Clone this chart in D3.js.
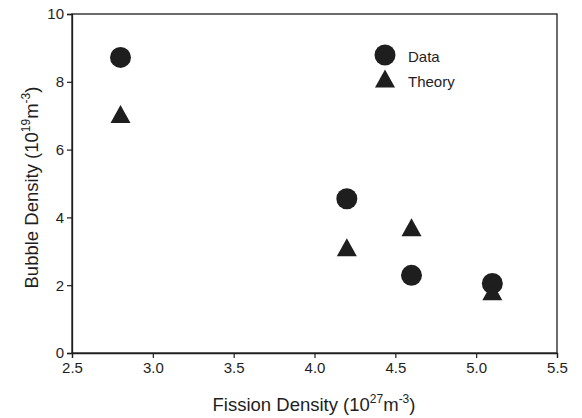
<!DOCTYPE html>
<html>
<head>
<meta charset="utf-8">
<script src="https://cdn.jsdelivr.net/npm/d3@7"></script>
<style>
  html, body { margin: 0; padding: 0; background: #fff; }
  svg { display: block; font-family: "Liberation Sans", Arial, sans-serif; }
</style>
</head>
<body>
<svg id="chart" width="582" height="418"></svg>
<script>
// Fission density (10^27 m^-3) vs. bubble density (10^19 m^-3)
const fissionData = [2.8, 4.2, 4.6, 5.1];
const bubbleData = [8.72, 4.55, 2.29, 2.05];
const fissionTheory = [2.8, 4.2, 4.6, 5.1];
const bubbleTheory = [7.05, 3.12, 3.71, 1.82];
const xTicks = [2.5, 3.0, 3.5, 4.0, 4.5, 5.0, 5.5];
const yTicks = [0, 2, 4, 6, 8, 10];
const seriesNames = ["Data", "Theory"];

const svg = d3.select("#chart");
const m = { left: 72, right: 557, top: 14, bottom: 353 };
const ink = "#1e1e1e";

const x = d3.scaleLinear().domain([2.5, 5.5]).range([m.left, m.right]);
const y = d3.scaleLinear().domain([0, 10]).range([m.bottom, m.top]);

// frame
svg.append("rect")
  .attr("x", m.left).attr("y", m.top)
  .attr("width", m.right - m.left).attr("height", m.bottom - m.top)
  .attr("fill", "none").attr("stroke", ink).attr("stroke-width", 1.3);

const xAxis = svg.append("g")
  .attr("transform", `translate(0,${m.bottom})`)
  .call(d3.axisBottom(x).tickValues(xTicks).tickFormat(d3.format(".1f")).tickSize(5).tickPadding(4));
const yAxis = svg.append("g")
  .attr("transform", `translate(${m.left},0)`)
  .call(d3.axisLeft(y).tickValues(yTicks).tickFormat(d3.format("d")).tickSize(5).tickPadding(3));

[xAxis, yAxis].forEach(g => {
  g.select(".domain").attr("stroke", ink).attr("stroke-width", 1.3);
  g.selectAll(".tick line").attr("stroke", ink).attr("stroke-width", 1.2);
  g.selectAll(".tick text").attr("fill", ink).attr("font-size", 15)
    .attr("font-family", "'Liberation Sans', Arial, sans-serif");
});

// symbols
const circle = d3.symbol().type(d3.symbolCircle).size(Math.PI * 10.5 * 10.5);
const triSide = 20;
// triangle centred on its bounding box
const triPath = (s) => {
  const h = s * 0.9;
  return `M0,${-h / 2}L${s / 2},${h / 2}L${-s / 2},${h / 2}Z`;
};

svg.append("g").selectAll("path")
  .data(fissionData.map((d, i) => [d, bubbleData[i]]))
  .join("path")
  .attr("d", circle)
  .attr("transform", d => `translate(${x(d[0])},${y(d[1])})`)
  .attr("fill", ink);

svg.append("g").selectAll("path")
  .data(fissionTheory.map((d, i) => [d, bubbleTheory[i]]))
  .join("path")
  .attr("d", triPath(triSide))
  .attr("transform", d => `translate(${x(d[0])},${y(d[1])})`)
  .attr("fill", ink);

// legend
const legend = svg.append("g");
legend.append("path").attr("d", circle).attr("transform", "translate(385,55)").attr("fill", ink);
legend.append("path").attr("d", triPath(triSide)).attr("transform", "translate(385,78.5)").attr("fill", ink);
legend.selectAll("text")
  .data(seriesNames)
  .join("text")
  .attr("x", 408)
  .attr("y", (d, i) => 61.5 + i * 25.5)
  .attr("font-size", 15)
  .attr("fill", ink)
  .text(d => d);

// axis titles with superscripts
function titleWithUnits(sel, label, exp) {
  sel.append("tspan").text(label + " (10");
  sel.append("tspan").attr("font-size", 12).attr("dy", -8).text(exp);
  sel.append("tspan").attr("dy", 8).text("m");
  sel.append("tspan").attr("font-size", 12).attr("dy", -8).text("-3");
  sel.append("tspan").attr("dy", 8).text(")");
}

const xTitle = svg.append("text")
  .attr("x", 314).attr("y", 411)
  .attr("text-anchor", "middle").attr("font-size", 18.5).attr("fill", ink);
titleWithUnits(xTitle, "Fission Density", "27");

const yTitle = svg.append("text")
  .attr("transform", "translate(38,187.5) rotate(-90)")
  .attr("text-anchor", "middle").attr("font-size", 18.5).attr("fill", ink);
titleWithUnits(yTitle, "Bubble Density", "19");
</script>
</body>
</html>
